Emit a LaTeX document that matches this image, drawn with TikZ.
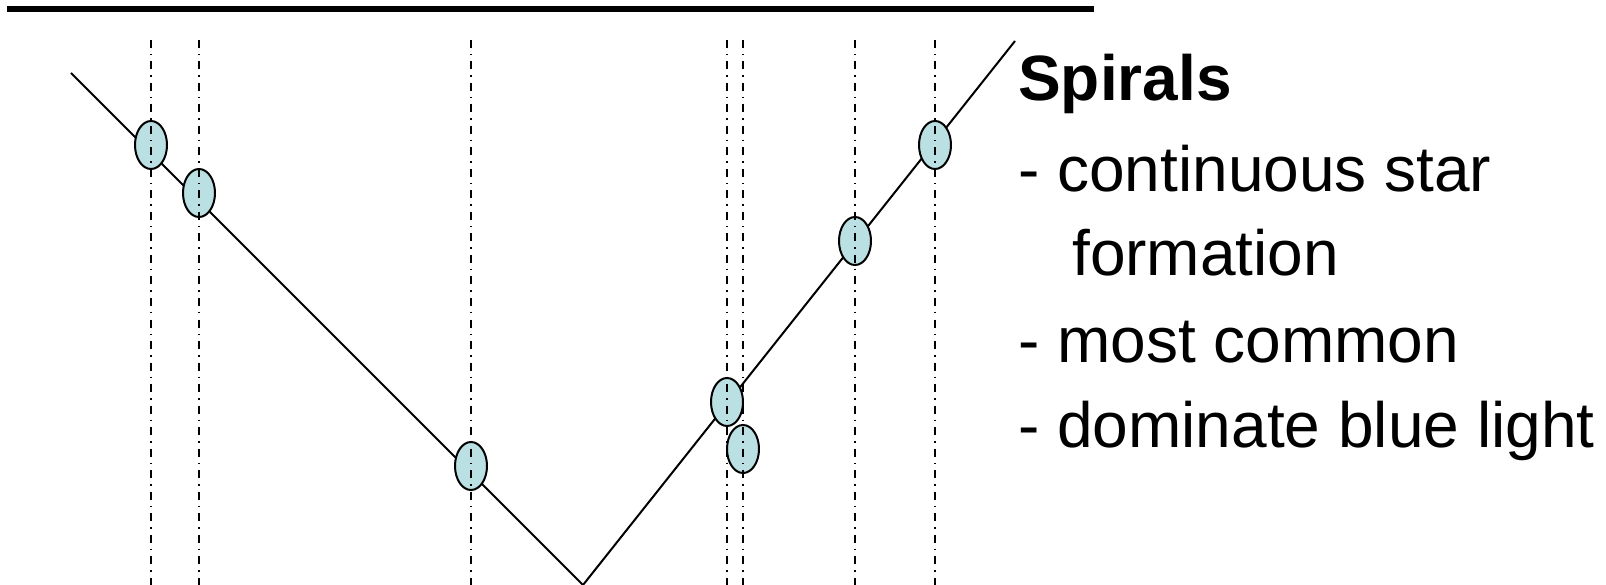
\documentclass[tikz,border=0pt]{standalone}
\usepackage{fontspec}
\setmainfont{Liberation Sans}
\usetikzlibrary{shapes.geometric}
\definecolor{galfill}{RGB}{187,224,227}
\tikzset{
  gal/.style={ellipse, draw=black, line width=2pt, fill=galfill, minimum width=32pt, minimum height=48pt, inner sep=0pt},
  sightline/.style={line width=1.5pt, dash pattern=on 8pt off 6pt on 1.5pt off 6pt},
  track/.style={line width=2pt},
  bar/.style={line width=6pt},
  txt/.style={anchor=base west, inner sep=0pt, font=\fontsize{64}{76}\selectfont},
}
\begin{document}
\begin{tikzpicture}[x=1pt,y=-1pt]
\useasboundingbox (0,0) rectangle (1606,585);
% top bar
\coordinate (barL) at (7,9.5);
\coordinate (barR) at (1094,9.5);
\draw[bar] (barL) -- (barR);
% track
\coordinate (p0) at (71,73);
\coordinate (p1) at (583,585);
\coordinate (p2) at (1015,41);
\draw[track] (p0) -- (p1) -- (p2);
% galaxies
\node[gal] (g1) at (151,145) {};
\node[gal] (g2) at (199,193) {};
\node[gal] (g3) at (471,466) {};
\node[gal] (g4) at (727,402) {};
\node[gal] (g5) at (743,449) {};
\node[gal] (g6) at (855,241) {};
\node[gal] (g7) at (935,145) {};
% sight lines
\foreach \x [count=\i] in {151,199,471,727,743,855,935}{
  \coordinate (s\i t) at (\x,40);
  \coordinate (s\i b) at (\x,585);
  \draw[sightline] (s\i t) -- (s\i b);
}
% text
\node[txt, font=\fontsize{64}{76}\selectfont\bfseries] (title) at (1018,101) {Spirals};
\node[txt] (l1) at (1018,192) {- continuous star};
\node[txt] (l2) at (1072,276) {formation};
\node[txt] (l3) at (1018,362) {- most common};
\node[txt] (l4) at (1018,447) {- dominate blue light};
\end{tikzpicture}
\end{document}
